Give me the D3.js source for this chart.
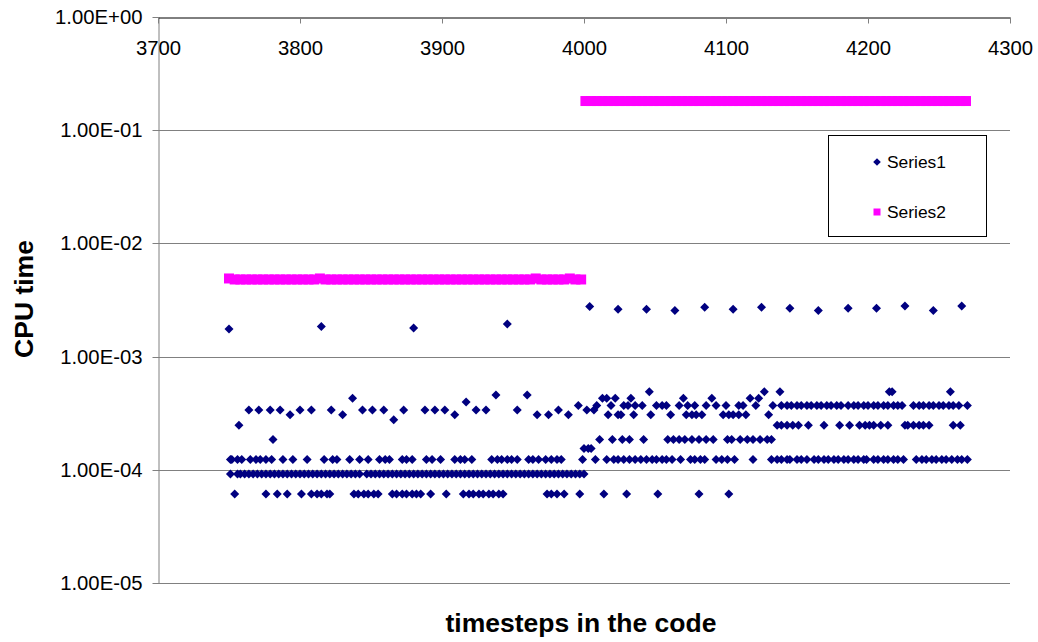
<!DOCTYPE html>
<html>
<head>
<meta charset="utf-8">
<script src="https://cdn.jsdelivr.net/npm/d3@7"></script>
<style>
  html, body { margin: 0; padding: 0; background: #fff; }
  svg { display: block; font-family: "Liberation Sans", Arial, sans-serif; }
</style>
</head>
<body>
<svg id="chart" width="1038" height="642"></svg>
<script>
// ---- data ----
const xTicks = [3700, 3800, 3900, 4000, 4100, 4200, 4300];
const yTicks = [1e-5, 1e-4, 1e-3, 1e-2, 1e-1, 1];
const seriesNames = ["Series1", "Series2"];

// Series1: [timestep, CPU time]
const series1Peaks = [
  [3750,1.75e-3],[3815,1.84e-3],[3880,1.79e-3],[3946,1.94e-3],
  [4004,2.77e-3],[4024,2.62e-3],[4044,2.62e-3],[4064,2.56e-3],[4085,2.73e-3],[4105,2.62e-3],
  [4125,2.73e-3],[4145,2.67e-3],[4165,2.56e-3],[4186,2.67e-3],[4206,2.67e-3],[4226,2.8e-3],
  [4246,2.56e-3],[4266,2.8e-3]
];
const series1Mid = [
  [3757,2.47e-4],[3764,3.37e-4],[3771,3.37e-4],[3779,3.37e-4],[3781,1.85e-4],[3786,3.37e-4],
  [3793,3.07e-4],[3800,3.37e-4],[3808,3.37e-4],[3822,3.37e-4],[3830,3.07e-4],[3837,4.28e-4],
  [3844,3.37e-4],[3851,3.37e-4],[3859,3.37e-4],[3866,2.77e-4],[3873,3.37e-4],[3888,3.37e-4],
  [3895,3.37e-4],[3902,3.37e-4],[3909,3.07e-4],[3917,3.98e-4],[3924,3.37e-4],[3931,3.37e-4],
  [3938,4.58e-4],[3953,3.37e-4],[3960,4.58e-4],[3967,3.07e-4],[3975,3.07e-4],[3982,3.37e-4],
  [3989,3.07e-4],[3996,3.69e-4],
  [4002,3.37e-4],[4007,3.37e-4],
  [4013,4.28e-4],[4016,4.28e-4],[4022,4.28e-4],[4033,4.28e-4],[4070,4.28e-4],[4090,4.28e-4],[4117,4.28e-4],[4123,4.28e-4],
  [4046,4.9e-4],[4127,4.9e-4],[4138,4.9e-4],[4215,4.9e-4],[4217,4.9e-4],[4258,4.9e-4],
  [4000,1.54e-4],[4003,1.54e-4],[4005,1.54e-4]
];
const series1Row369 = [
  4009,4019,4028,4031,4036,4041,4051,4055,4058,4067,4073,4078,4086,4093,4100,4109,4112,4121,4133,
  4139,4143,4146,4150,4153,4157,4160,4164,4167,4171,4174,4178,4181,4186,4190,4193,4197,4200,4204,
  4207,4211,4214,4218,4221,4224,4232,4236,4239,4243,4246,4250,4253,4257,4260,4264,4270
];
const series1Row307 = [4017,4024,4026,4035,4047,4061,4072,4076,4079,4083,4098,4102,4105,4109,4114,4130];
const series1Row247 = [
  4136,4139,4143,4147,4151,4158,4169,4180,4187,4194,4198,4201,4204,4209,4214,4226,4228,4232,4236,
  4239,4243,4260,4265
];
const series1Row185 = [
  4011,4020,4027,4032,4042,4059,4063,4067,4071,4076,4081,4086,4091,4101,4104,4110,4115,4119,4124,4129,4132
];
const series1Row123 = [
  3751,3752,3756,3759,3765,3769,3772,3776,3780,3788,3795,3805,3817,3823,3826,3835,3842,3848,3856,
  3860,3863,3872,3875,3879,3889,3893,3899,3909,3913,3916,3921,3935,3939,3942,3946,3949,3953,3961,
  3964,3968,3973,3977,3981,3984,
  3999,4008,4016,4021,4024,4028,4032,4036,4040,4044,4048,4051,4055,4058,4062,4068,4075,4078,4082,
  4085,4093,4097,4101,4106,4119,4132,4136,4139,4143,4145,4150,4153,4157,4162,4165,4169,4172,4176,
  4179,4183,4186,4190,4193,4197,4199,4204,4207,4211,4214,4218,4221,4225,4234,4238,4241,4245,4248,
  4252,4255,4259,4263,4266,4270
];
const series1Row092 = [
  3751,3756,3758,3761,3764,3767,3770,3773,3776,3779,3782,3785,3788,3791,3794,3797,3800,3803,3806,
  3809,3812,3815,3818,3821,3824,3827,3830,3833,3836,3839,3842,3847,3850,3853,3856,3859,3862,3865,
  3868,3871,3874,3877,3880,3883,3886,3889,3892,3895,3898,3901,3904,3907,3910,3913,3916,3919,3922,
  3925,3928,3931,3934,3937,3940,3943,3946,3949,3952,3955,3958,3961,3964,3967,3970,3973,3976,3979,
  3982,3985,3988,3991,3994,3997,4000
];
const series1Row061 = [
  3754,3776,3784,3791,3801,3808,3812,3815,3819,3821,3838,3841,3845,3848,3852,3855,3865,3868,3872,
  3875,3879,3882,3885,3892,3903,3915,3919,3922,3926,3929,3933,3936,3940,3943,3974,3977,3981,3986,
  3997,4014,4030,4052,4081,4102
];
const rowLevels = { r369: 3.69e-4, r307: 3.07e-4, r247: 2.47e-4, r185: 1.85e-4, r123: 1.23e-4, r092: 9.2e-5, r061: 6.1e-5 };

// Series2: timesteps and CPU times
const series2Steps = [
  3750,3754,3758,3762,3766,3770,3774,3778,3782,3786,3790,3794,3798,3802,3806,3810,3814,3818,3822,
  3826,3830,3834,3838,3842,3846,3850,3854,3858,3862,3866,3870,3874,3878,3882,3886,3890,3894,3898,
  3902,3906,3910,3914,3918,3922,3926,3930,3934,3938,3942,3946,3950,3954,3958,3962,3966,3970,3974,
  3978,3982,3986,3990,3994,3998,
  4001,4005,4009,4013,4017,4021,4025,4029,4033,4037,4041,4045,4049,4053,4057,4061,4065,4069,4073,
  4077,4081,4085,4089,4093,4097,4101,4105,4109,4113,4117,4121,4125,4129,4133,4137,4141,4145,4149,
  4153,4157,4161,4165,4169,4173,4177,4181,4185,4189,4193,4197,4201,4205,4209,4213,4217,4221,4225,
  4229,4233,4237,4241,4245,4249,4253,4257,4261,4265,4269
];
const series2Values = [
  4.9e-3,4.8e-3,4.8e-3,4.8e-3,4.8e-3,4.8e-3,4.8e-3,4.8e-3,4.8e-3,4.8e-3,4.8e-3,4.8e-3,4.8e-3,4.8e-3,4.8e-3,4.8e-3,4.9e-3,4.8e-3,4.8e-3,
  4.8e-3,4.8e-3,4.8e-3,4.8e-3,4.8e-3,4.8e-3,4.8e-3,4.8e-3,4.8e-3,4.8e-3,4.8e-3,4.8e-3,4.8e-3,4.8e-3,4.8e-3,4.8e-3,4.8e-3,4.8e-3,4.8e-3,
  4.8e-3,4.8e-3,4.8e-3,4.8e-3,4.8e-3,4.8e-3,4.8e-3,4.8e-3,4.8e-3,4.8e-3,4.8e-3,4.8e-3,4.8e-3,4.8e-3,4.8e-3,4.8e-3,4.9e-3,4.8e-3,4.8e-3,
  4.8e-3,4.8e-3,4.8e-3,4.9e-3,4.8e-3,4.8e-3,
  0.181,0.181,0.181,0.181,0.181,0.181,0.181,0.181,0.181,0.181,0.181,0.181,0.181,0.181,0.181,0.181,0.181,0.181,0.181,
  0.181,0.181,0.181,0.181,0.181,0.181,0.181,0.181,0.181,0.181,0.181,0.181,0.181,0.181,0.181,0.181,0.181,0.181,0.181,
  0.181,0.181,0.181,0.181,0.181,0.181,0.181,0.181,0.181,0.181,0.181,0.181,0.181,0.181,0.181,0.181,0.181,0.181,0.181,
  0.181,0.181,0.181,0.181,0.181,0.181,0.181,0.181,0.181,0.181,0.181
];

// ---- build tables ----
const series1 = [].concat(
  series1Peaks, series1Mid,
  series1Row369.map(t => [t, rowLevels.r369]),
  series1Row307.map(t => [t, rowLevels.r307]),
  series1Row247.map(t => [t, rowLevels.r247]),
  series1Row185.map(t => [t, rowLevels.r185]),
  series1Row123.map(t => [t, rowLevels.r123]),
  series1Row092.map(t => [t, rowLevels.r092]),
  series1Row061.map(t => [t, rowLevels.r061])
);
const series2 = series2Steps.map((t, i) => [t, series2Values[i]]);

// ---- layout ----
const svg = d3.select("#chart");
const plot = { left: 158, right: 1010, top: 17, bottom: 583 };
const x = d3.scaleLinear().domain([3700, 4300]).range([plot.left, plot.right]);
const y = d3.scaleLog().domain([1e-5, 1]).range([plot.bottom, plot.top]);

const navy = "#000080", pink = "#FF00FF", gridGray = "#808080";
const fontFam = "'Liberation Sans', Arial, sans-serif";
const fmtSci = v => {
  const e = Math.round(Math.log10(v));
  return "1.00E" + (e >= 0 ? "+" : "-") + String(Math.abs(e)).padStart(2, "0");
};

// gridlines
svg.append("g").selectAll("line").data(yTicks.filter(v => v < 1)).join("line")
  .attr("x1", plot.left).attr("x2", plot.right)
  .attr("y1", d => Math.round(y(d)) + 0.5).attr("y2", d => Math.round(y(d)) + 0.5)
  .attr("stroke", gridGray).attr("stroke-width", 1);

// y axis
const yAxis = svg.append("g")
  .attr("transform", `translate(${plot.left + 0.5},0)`)
  .call(d3.axisLeft(y).tickValues(yTicks).tickFormat(fmtSci).tickSize(6).tickPadding(10).tickSizeOuter(0));
yAxis.select(".domain").attr("stroke", gridGray);
yAxis.selectAll(".tick line").attr("stroke", gridGray);
yAxis.selectAll(".tick").attr("transform", d => `translate(0,${Math.round(y(d)) + 0.5})`);
yAxis.selectAll("text").attr("font-size", 20.3).attr("fill", "#000").attr("font-family", fontFam);

// x axis at top (y = 1)
const xAxis = svg.append("g")
  .attr("transform", `translate(0,${Math.round(y(1)) + 0.5})`)
  .call(d3.axisBottom(x).tickValues(xTicks).tickFormat(d3.format("d")).tickSize(6).tickPadding(17).tickSizeOuter(0));
xAxis.select(".domain").attr("stroke", "#000");
xAxis.selectAll(".tick line").attr("stroke", gridGray);
xAxis.selectAll("text").attr("font-size", 20.3).attr("fill", "#000").attr("font-family", fontFam);

// marker shapes
const diamond = r => `M0,${-r}L${r},0L0,${r}L${-r},0Z`;

// Series1
svg.append("g").selectAll("path").data(series1).join("path")
  .attr("d", diamond(4.5))
  .attr("transform", d => `translate(${x(d[0])},${y(d[1])})`)
  .attr("fill", navy);

// Series2
const sq = 10;
svg.append("g").selectAll("rect").data(series2).join("rect")
  .attr("x", d => x(d[0]) - sq / 2).attr("y", d => y(d[1]) - sq / 2)
  .attr("width", sq).attr("height", sq)
  .attr("fill", pink);

// axis titles
svg.append("text")
  .attr("x", 581).attr("y", 632)
  .attr("text-anchor", "middle")
  .attr("font-size", 26.5).attr("font-weight", "bold")
  .text("timesteps in the code");
svg.append("text")
  .attr("transform", "translate(33,299) rotate(-90)")
  .attr("text-anchor", "middle")
  .attr("font-size", 26.5).attr("font-weight", "bold")
  .text("CPU time");

// legend
const lg = svg.append("g");
lg.append("rect").attr("x", 828.5).attr("y", 135.5).attr("width", 158).attr("height", 101)
  .attr("fill", "#fff").attr("stroke", "#000").attr("stroke-width", 1);
lg.append("path").attr("d", diamond(3.8)).attr("transform", "translate(877,162)").attr("fill", navy);
lg.append("rect").attr("x", 873.5).attr("y", 208.5).attr("width", 7).attr("height", 7).attr("fill", pink);
lg.selectAll("text.lgt").data(seriesNames).join("text")
  .attr("class", "lgt")
  .attr("x", 887).attr("y", (d, i) => 167.5 + i * 50)
  .attr("font-size", 17.4).attr("fill", "#000")
  .text(d => d);
</script>
</body>
</html>
